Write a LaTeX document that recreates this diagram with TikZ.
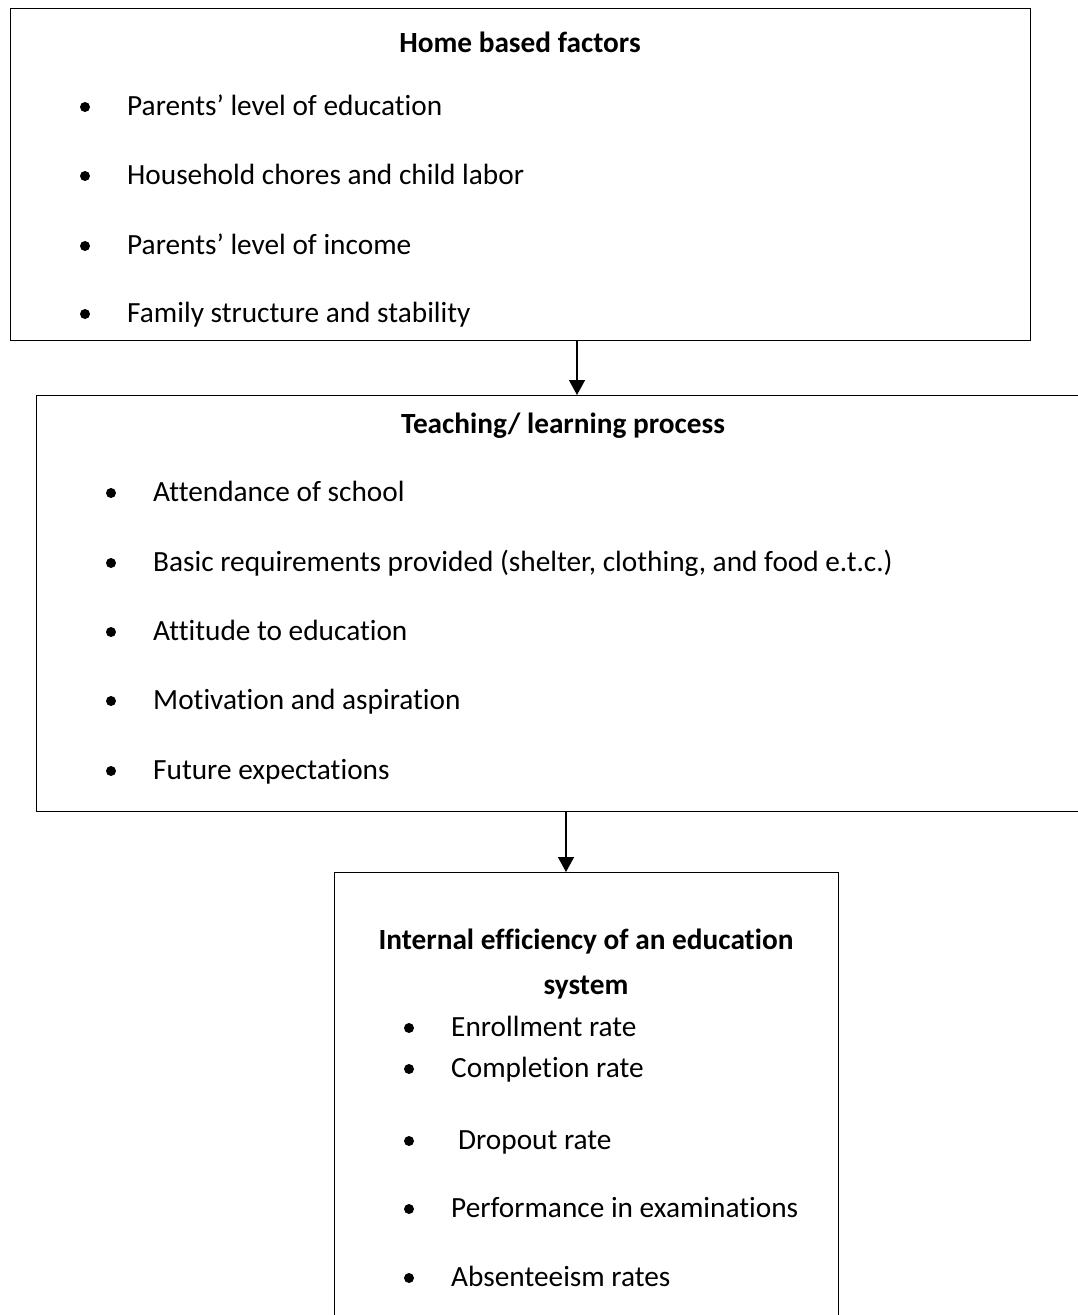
\documentclass[tikz,border=0pt]{standalone}
\usepackage{fontspec}
\setmainfont{Carlito}[Ligatures={NoCommon}]
\usetikzlibrary{arrows.meta}

\tikzset{
  box/.style={draw, line width=1.4pt, anchor=north west, inner sep=0pt},
  title/.style={font=\fontsize{29.3}{45}\selectfont\bfseries, align=center},
  item/.style={font=\fontsize{29.3}{35}\selectfont, anchor=west, inner sep=0pt,
               text height=19pt, text depth=3pt},
  dot/.style={circle, fill, inner sep=0pt, minimum size=10pt},
  flow/.style={line width=1.4pt, -{Triangle[width=16pt,length=15pt]}}
}

\begin{document}
\begin{tikzpicture}[x=1pt, y=-1pt]
  \useasboundingbox (0,0) rectangle (1078,1315);
  \clip (0,0) rectangle (1078,1315);

  % Boxes (the second and third run off the page)
  \node[box, minimum width=1020pt, minimum height=332pt] (home) at (10,8) {};
  \node[box, minimum width=1080pt, minimum height=416pt] (teach) at (36,395) {};
  \node[box, minimum width=504pt, minimum height=470pt] (eff) at (334,872) {};

  % Arrows between the boxes
  \coordinate (a1) at (577,340);
  \coordinate (a2) at (566,811);
  \draw[flow] (home.south -| a1) -- (teach.north -| a1);
  \draw[flow] (teach.south -| a2) -- (eff.north -| a2);

  % Titles
  \node[title] (homeT) at (520,42) {Home based factors};
  \node[title] (teachT) at (563,426) {Teaching/ learning process};
  \node[title] (effT) at (586,964) {Internal efficiency of an education\\system};

  % Home based factors
  \foreach \y/\t [count=\i] in {107/Parents’ level of education,
      176/Household chores and child labor, 246/Parents’ level of income,
      314/Family structure and stability}{
    \node[dot] (hd\i) at (85,\y) {};
    \node[item] (h\i) at (127,\y) {\t};
  }

  % Teaching/ learning process
  \foreach \y/\t [count=\i] in {493/Attendance of school,
      563/{Basic requirements provided (shelter, clothing, and food e.t.c.)},
      632/Attitude to education, 701/Motivation and aspiration,
      771/Future expectations}{
    \node[dot] (td\i) at (111,\y) {};
    \node[item] (t\i) at (153,\y) {\t};
  }

  % Internal efficiency
  \foreach \y/\t [count=\i] in {1028/Enrollment rate, 1069/Completion rate,
      1141/{\hspace{7pt}Dropout rate}, 1209/Performance in examinations,
      1278/Absenteeism rates}{
    \node[dot] (ed\i) at (409,\y) {};
    \node[item] (e\i) at (451,\y) {\t};
  }
\end{tikzpicture}
\end{document}
